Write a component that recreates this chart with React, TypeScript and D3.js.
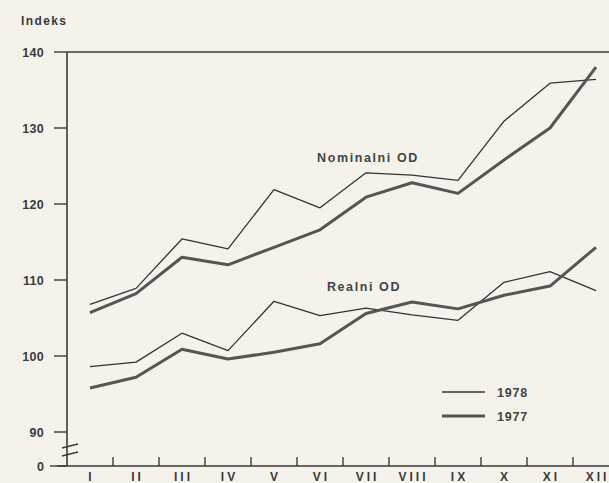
import { useEffect, useRef } from "react";
import * as d3 from "d3";

const months = ["I", "II", "III", "IV", "V", "VI", "VII", "VIII", "IX", "X", "XI", "XII"];
const yTicks = [90, 100, 110, 120, 130, 140];

const nominal1978 = [106.8, 108.9, 115.4, 114.1, 121.9, 119.5, 124.1, 123.8, 123.1, 130.9, 135.9, 136.4];
const nominal1977 = [105.7, 108.2, 113.0, 112.0, 114.3, 116.6, 120.9, 122.8, 121.4, 125.8, 130.0, 138.0];
const real1978 = [98.6, 99.2, 103.0, 100.7, 107.2, 105.3, 106.3, 105.4, 104.7, 109.7, 111.1, 108.6];
const real1977 = [95.8, 97.2, 100.9, 99.6, 100.5, 101.6, 105.6, 107.1, 106.2, 108.0, 109.2, 114.3];

const W = 609;
const H = 483;
const ink = "#3a3a3a";
const font = "'Liberation Sans', Arial, sans-serif";

const App = () => {
  const ref = useRef<SVGSVGElement | null>(null);

  useEffect(() => {
    if (!ref.current) return;
    const svg = d3.select(ref.current);
    svg.selectAll("*").remove();

    const left = 67;
    const zeroY = 466;

    const x = d3.scaleBand().domain(months).range([left, left + 46 * 12]).padding(0);
    const y = d3.scaleLinear().domain([90, 140]).range([432, 52]);
    const cx = (m: string) => x(m)! + x.bandwidth() / 2;

    svg.append("rect").attr("width", W).attr("height", H).attr("fill", "#f4f2eb");

    // frame: top line, vertical axis, zero line
    svg.append("line").attr("x1", left).attr("x2", W).attr("y1", y(140)).attr("y2", y(140))
      .attr("stroke", ink).attr("stroke-width", 1.6);
    svg.append("line").attr("x1", left).attr("x2", left).attr("y1", y(140)).attr("y2", zeroY)
      .attr("stroke", ink).attr("stroke-width", 1.6);
    svg.append("line").attr("x1", 57).attr("x2", W).attr("y1", zeroY).attr("y2", zeroY)
      .attr("stroke", ink).attr("stroke-width", 1.6);

    // axis break marks
    [446, 454].forEach(by => {
      svg.append("line").attr("x1", 62).attr("x2", 78).attr("y1", by + 2).attr("y2", by - 2)
        .attr("stroke", ink).attr("stroke-width", 1.5);
    });

    const txt = (size: number, spacing: number) => (sel: any) =>
      sel.attr("font-family", font).attr("font-size", size).attr("font-weight", "bold")
        .attr("letter-spacing", spacing).attr("fill", ink);

    // y ticks
    const yg = svg.append("g");
    yg.selectAll("line").data(yTicks).join("line")
      .attr("x1", 54).attr("x2", left).attr("y1", d => y(d)).attr("y2", d => y(d))
      .attr("stroke", ink).attr("stroke-width", 1.4);
    yg.selectAll("text").data(yTicks).join("text")
      .attr("x", 44).attr("y", d => y(d) + 5)
      .attr("text-anchor", "end")
      .call(txt(12.5, 0.3))
      .text(d => d);
    svg.append("line").attr("x1", 50).attr("x2", left).attr("y1", zeroY).attr("y2", zeroY)
      .attr("stroke", ink).attr("stroke-width", 1.4);
    svg.append("text").attr("x", 44).attr("y", zeroY + 5).attr("text-anchor", "end")
      .call(txt(12.5, 0)).text("0");

    svg.append("text").attr("x", 21).attr("y", 25).call(txt(12, 1.4)).text("Indeks");

    // x ticks at month boundaries
    const bounds = months.slice(1).map(m => x(m)!);
    svg.append("g").selectAll("line").data(bounds).join("line")
      .attr("x1", d => d).attr("x2", d => d).attr("y1", zeroY - 9).attr("y2", zeroY)
      .attr("stroke", ink).attr("stroke-width", 1.4);
    svg.append("g").selectAll("text").data(months).join("text")
      .attr("x", d => cx(d) + 1.5).attr("y", zeroY + 15)
      .attr("text-anchor", "middle")
      .call(txt(12, 3))
      .text(d => d);

    const line = d3.line<number>().x((_, i) => cx(months[i])).y(d => y(d));
    const series = [
      { values: nominal1978, width: 1.3, color: "#333" },
      { values: nominal1977, width: 3, color: "#555" },
      { values: real1978, width: 1.3, color: "#333" },
      { values: real1977, width: 3, color: "#555" },
    ];
    svg.append("g").selectAll("path").data(series).join("path")
      .attr("d", d => line(d.values))
      .attr("fill", "none").attr("stroke", d => d.color).attr("stroke-width", d => d.width)
      .attr("stroke-linejoin", "round");

    const label = (tx: number, ty: number, t: string) =>
      svg.append("text").attr("x", tx).attr("y", ty).attr("text-anchor", "middle")
        .call(txt(12.5, 1.6)).attr("fill", "#444").text(t);
    label(368, 162, "Nominalni OD");
    label(364, 291, "Realni OD");

    // legend
    const legend = [
      { name: "1978", width: 1.3, color: "#333", ly: 392 },
      { name: "1977", width: 3, color: "#555", ly: 416 },
    ];
    legend.forEach(l => {
      svg.append("line").attr("x1", 442).attr("x2", 485).attr("y1", l.ly).attr("y2", l.ly)
        .attr("stroke", l.color).attr("stroke-width", l.width);
      svg.append("text").attr("x", 497).attr("y", l.ly + 5)
        .call(txt(12.5, 0.8)).attr("fill", "#444").text(l.name);
    });
  }, []);

  return (
    <svg ref={ref} width={W} height={H}
      style={{ position: "absolute", left: 0, top: 0, display: "block" }} />
  );
};

export default App;
